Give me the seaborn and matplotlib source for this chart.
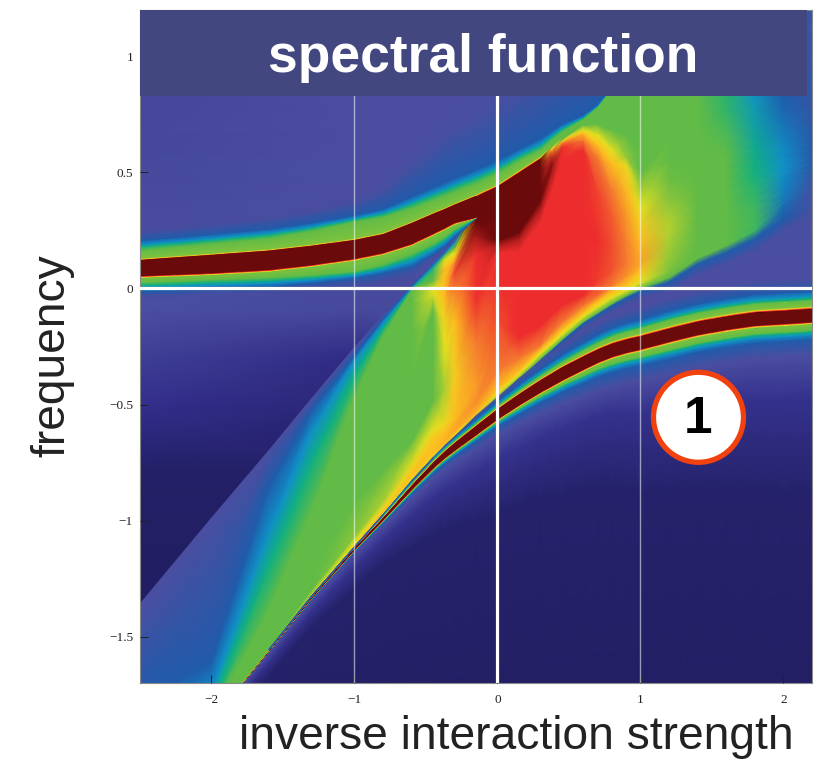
import numpy as np
import matplotlib
matplotlib.use("Agg")
import matplotlib.pyplot as plt
from matplotlib.patches import Ellipse, Rectangle
import seaborn as sns

# ---------- data ----------
inverse_strength = [-2.5, -2.0, -1.6, -1.3, -1.0, -0.8, -0.6, -0.45, -0.37, -0.3, -0.15, 0, .15, .3, .38, .45, .6, .7, .8,
                    .9, 1.0, 1.2, 1.4, 1.6, 1.8, 2.0, 2.2]
x_ticks = [-2, -1, 0, 1, 2]
y_ticks = [-1.5, -1, -0.5, 0, 0.5, 1]
title_text = "spectral function"
x_label = "inverse interaction strength"
y_label = "frequency"
badge_text = "1"

# background intensity on a coarse grid
bg_x = [-2.5, -1.0, 0.5, 2.2]
bg_freq = [-1.7, -1.2, -0.8, -0.5, -0.3, -0.1, 0.1, 0.6, 1.2]
bg_value = [[.2, .1, .1, .2], [.2, .2, .3, .4], [.3, .3, .5, .6], [1, .6, 2, 2], [1.5, .9, 2, 2],
            [2, 1.8, 2, 2], [2, 2, 2, 2], [1.8, 2, 2, 2.2], [1.7, 2, 2, 2.4]]

# lower quasi-particle branch: centre, dark half-width, halo width, soft glow width
lower_center = [-2.25, -1.86, -1.56, -1.33, -1.12, -.99, -.855, -.76, -.715, -.68, -.61, -.54, -.478, -.42, -.392, -.367,
                -.32, -.29, -.265, -.247, -.233, -.20, -.17, -.148, -.13, -.123, -.115]
lower_half = [.001, .001, .002, .003, .005, .0065, .010, .013, .015, .017, .020, .022, .024, .026, .027] + [.028] * 12
lower_halo = [.002, .002, .003, .005, .008, .012, .018, .022, .024, .026, .030, .034, .040, .045, .048, .05, .055, .057,
              .06, .061, .062, .065, .065, .065, .065, .065, .065]
lower_glow = [.03, .03, .05, .06, .08, .09, .12, .14, .15, .16, .18, .20, .21, .22, .23, .24, .25, .26, .27, .285, .30, .31,
              .32, .33, .34, .35, .35]

# upper branch: top and bottom edges of the dark band, then halo widths
upper_top = [.121, .143, .161, .182, .207, .232, .28, .32, .34, .359, .397, .44, .50, .56, .609, .652, .717, .773, .855,
             .93, 1.0]
upper_top_value = [11] * 14 + [7] + [6] * 6
top_green = [.043, .05, .055, .065, .08, .075, .065, .06, .059, .058, .055, .055, .05, .035, .03, .022, .012, .009, .006,
             .005, .004]
top_blue = [.086, .09, .095, .10, .108, .11, .115, .115, .115, .115, .115, .11, .10, .085, .07, .055, .03, .02, .015, .012,
            .01]
top_fade = [.13, .14, .15, .16, .18, .22, .30, .36, .38, .40, .42, .45, .45, .45, .45, .45, .42, .41, .40, .40, .40]
upper_bottom = [.056, .068, .082, .103, .13, .155, .194, .238, .262, .285, .307]
bottom_green = [.03, .03, .035, .045, .056, .052, .045, .045, .04, .03, .002]
bottom_blue = [.07, .07, .075, .08, .086, .09, .10, .09, .08, .06, .003]
bottom_fade = [.10, .10, .105, .115, .13, .14, .15, .115, .10, .075, .004]

# continuum below its lower edge: blue rim and soft fade offsets
rim_blue = [.006] * 17 + [.007, .008, .01, .012, .018, .024, .03, .035, .05, .06]
rim_fade = [.006] * 11 + [.012, .018, .03, .03, .03, .03, .032, .035, .037, .04, .06, .07, .08, .09, .10, .10]

# continuum: one list per column, frequency of 15 contours from its lower edge to its upper edge
cont_freq = [
    [-2.25, -2.24, -2.23, -2.22, -2.21, -2.20, -2.19, -2.18, -2.17, -2.16, -2.15, -2.104, -1.996, -1.78, -1.36],
    [-1.86, -1.858, -1.857, -1.856, -1.855, -1.854, -1.853, -1.852, -1.851, -1.85, -1.844, -1.80, -1.737, -1.607, -.99],
    [-1.56, -1.556, -1.554, -1.552, -1.54, -1.52, -1.50, -1.477, -1.456, -1.425, -1.39, -1.197, -1.045, -.851, -.70],
    [-1.33, -1.326, -1.322, -1.313, -1.296, -1.218, -1.132, -1.089, -1.045, -1.002, -.959, -.752, -.613, -.527, -.475],
    [-1.119, -1.11, -1.106, -1.093, -1.067, -.916, -.786, -.657, -.57, -.505, -.462, -.376, -.311, -.289, -.255],
    [-.975, -.968, -.96, -.946, -.916, -.786, -.613, -.441, -.311, -.246, -.203, -.173, -.147, -.13, -.117],
    [-.83, -.816, -.799, -.778, -.743, -.657, -.397, -.181, -.052, -.022, -.004, .002, .006, .011, .013],
    [-.73, -.722, -.687, -.644, -.605, -.484, -.095, -.039, -.017, .004, .035, .078, .095, .104, .112],
    [-.68, -.672, -.657, -.626, -.583, -.428, -.255, -.138, -.043, .035, .086, .121, .143, .151, .156],
    [-.64, -.628, -.615, -.592, -.557, -.354, -.138, .004, .069, .108, .13, .156, .177, .199, .207],
    [-.55, -.54, -.525, -.49, -.419, -.225, -.052, .151, .229, .285, .307, .33, .35, .37, .39],
    [-.471, -.454, -.432, -.354, -.138, .035, .151, .181, .207, .294, .38, .40, .41, .42, .44],
    [-.389, -.371, -.354, -.302, -.212, -.009, .164, .216, .242, .337, .423, .45, .47, .485, .50],
    [-.302, -.281, -.264, -.246, -.16, .078, .285, .346, .38, .445, .51, .525, .535, .55, .56],
    [-.259, -.238, -.22, -.19, -.112, .164, .423, .51, .54, .566, .587, .592, .596, .60, .609],
    [-.22, -.199, -.177, -.147, -.073, .251, .553, .609, .626, .635, .639, .64, .642, .644, .652],
    [-.143, -.121, -.104, -.073, -.03, .294, .596, .639, .67, .683, .704, .708, .71, .714, .717],
    [-.104, -.078, -.056, -.03, .035, .207, .423, .566, .618, .661, .708, .74, .75, .76, .773],
    [-.065, -.039, -.013, .013, .078, .186, .315, .423, .54, .596, .683, .74, .78, .82, .855],
    [-.03, -.009, .017, .056, .112, .207, .337, .423, .531, .566, .661, .75, .82, .88, .93],
    [0, .026, .078, .108, .143, .207, .272, .35, .423, .497, .596, .70, .80, .90, 1.0],
    [.047, .078, .143, .207, .25, .315, .38, .467, .553, .639, .72, .80, .90, 1.0, 1.15],
    [.13, .17, .22, .27, .32, .37, .42, .47, .52, .57, .62, .70, .80, .95, 1.25],
    [.186, .23, .27, .30, .34, .38, .43, .47, .52, .56, .60, .68, .77, .85, 1.25],
    [.25, .28, .32, .36, .40, .44, .48, .52, .56, .60, .64, .70, .77, .85, 1.25],
    [.35, .37, .39, .42, .45, .48, .51, .54, .57, .60, .64, .70, .77, .85, 1.25],
    [.42, .44, .46, .48, .50, .52, .54, .57, .60, .63, .66, .70, .77, .85, 1.25],
]
# colour level (0 navy ... 6 green ... 10 red, 11 dark red) of the same contours
cont_level = [
    [6, 6, 6, 6, 6, 6, 6, 6, 6, 6, 6, 5, 4, 3, 2],
    [6, 6, 6, 6, 6, 6, 6, 6, 6, 6, 6, 5, 4, 3, 2],
    [6, 6, 6, 6, 6, 6, 6, 6, 6, 6, 6, 5, 4, 3, 2],
    [6.5, 7, 7, 6.5, 6, 6, 6, 6, 6, 6, 6, 5, 4, 3, 2],
    [7, 7.4, 7.6, 7, 6.3, 6, 6, 6, 6, 6, 6, 5, 4, 3, 2],
    [6.5, 7.5, 7.9, 7.3, 6.5, 6, 6, 6, 6, 6, 6, 5, 4, 3, 2],
    [6.5, 7.5, 8, 7.5, 6.8, 6, 6, 6, 6, 6, 6, 5, 4, 3, 2],
    [6.5, 7.7, 8, 7.7, 7, 6, 6, 6.7, 7, 6.8, 6, 5.5, 4.5, 3.3, 2],
    [6.5, 8, 8.2, 8, 7.3, 6.5, 7, 7.3, 8, 8, 8, 7, 6, 4, 2.5],
    [6.5, 7.5, 8.3, 8.3, 8, 7.6, 8, 9, 9.7, 9, 8, 7, 6, 4, 2.5],
    [6.2, 8, 8.3, 8.7, 8.5, 9, 9.9, 10, 10.6, 11, 11, 11, 11, 11, 11],
    [6, 7, 8, 9, 9.6, 10, 10, 10.4, 11, 11, 11, 11, 11, 11, 11],
    [6, 7, 8, 9, 10, 10, 10, 10.5, 11, 11, 11, 11, 11, 11, 11],
    [6, 7, 8, 9, 10, 10, 10, 10.5, 11, 11, 11, 11, 11, 11, 11],
    [6, 7, 8, 9, 10, 10, 10, 10.6, 10.8, 10.3, 9.5, 9, 8.5, 8, 7],
    [6, 7, 8, 9, 10, 10, 10, 10, 9, 8, 7, 6.5, 6, 6, 6],
    [6, 7, 8, 9, 10, 10, 10, 9, 8, 7, 6, 6, 6, 6, 6],
    [6, 7, 8, 9.2, 9.8, 10, 9.7, 9, 8, 7, 6, 6, 6, 6, 6],
    [6, 7, 8, 9, 9.5, 9.6, 9.4, 9, 8, 7, 6, 6, 6, 6, 6],
    [6, 7, 8, 8.7, 9, 8.9, 8.5, 8.1, 7.2, 6.4, 6, 6, 6, 6, 6],
    [6, 7, 8, 8.4, 8.3, 8, 7.6, 7, 6.5, 6, 6, 6, 6, 6, 6],
    [6, 6.2, 6.4, 6.5, 6.6, 6.5, 6.3, 6.1, 6, 6, 6, 6, 6, 6, 6],
    [6, 6, 6, 6, 6, 6, 6, 6, 6, 6, 6, 6, 6, 6, 6],
    [6, 6, 6, 6, 6, 6, 6, 6, 6, 6, 5.9, 5.7, 5.4, 5.3, 5],
    [5.5, 5.6, 5.6, 5.5, 5.4, 5.3, 5.1, 5, 4.9, 4.8, 4.7, 4.5, 4.3, 4.0, 3.5],
    [3.3, 3.5, 3.6, 3.7, 3.8, 3.9, 4, 4, 3.9, 3.9, 3.7, 3.5, 3.2, 3, 2.8],
    [2.2, 2.3, 2.4, 2.5, 2.6, 2.7, 2.8, 2.8, 2.8, 2.8, 2.8, 2.7, 2.6, 2.5, 2.4],
]
level_colors = ["#1E1B5A", "#332F8C", "#4B4FA0", "#1F5CAB", "#1090C8", "#12B080", "#62BB46", "#E6E020", "#FDC020",
                "#F47B30", "#EE2D2D", "#6B0A0A"]

# ---------- drawing ----------
sns.set_theme(style="white")
plt.rcParams["font.family"] = ["Liberation Sans", "DejaVu Sans"]
cmap = sns.blend_palette(level_colors, n_colors=256, as_cmap=True)

fig = plt.figure(figsize=(8.16, 7.61), dpi=100)
ax = fig.add_axes([140 / 816, 78 / 761, 672 / 816, 673 / 761])


def mesh(xs, rows, levels, alphas=None):
    """Draw a curved, smoothly shaded mesh: rows and levels have shape (rows, columns)."""
    xs = np.asarray(xs, float)
    Y = np.asarray(rows, float)
    V = np.asarray(levels, float)
    X = np.tile(xs, (Y.shape[0], 1))
    rgba = cmap(V / 11.0)
    if alphas is not None:
        rgba[..., 3] = np.asarray(alphas, float)
    ax.pcolormesh(X, Y, rgba, shading="gouraud", antialiased=False, zorder=2)


X_all = np.array(inverse_strength)
full = lambda v, n: np.full(n, float(v))

# background
bX, bY = np.meshgrid(bg_x, bg_freq)
ax.pcolormesh(bX, bY, cmap(np.array(bg_value) / 11.0), shading="gouraud", antialiased=False, zorder=1)

# continuum
cf = np.array(cont_freq).T
cl = np.array(cont_level).T
n = len(X_all)
edge = cf[0]
edge_level = cl[0]
rows = np.vstack([edge - np.array(rim_fade), edge - np.array(rim_blue), cf])
levs = np.vstack([np.minimum(edge_level, 3), np.minimum(edge_level, 3), cl])
alph = np.ones_like(rows)
alph[0] = 0
mesh(X_all, rows, levs, alph)

# upper branch, above its top edge
m = len(upper_top)
T = np.array(upper_top)
tv = np.array(upper_top_value, float)
G, B, F = np.array(top_green), np.array(top_blue), np.array(top_fade)
soft = np.where(tv > 7, 1.0, 0.0)
rows = [T, T + .003, T + .006, T + .010, T + G, T + G + (B - G) * .35, T + G + (B - G) * .6, T + B, T + (B + F) / 2, T + F]
levs = [tv, 6 + 4 * soft, 6 + 1.5 * soft, 6 + .2 * soft, full(6, m), full(5, m), full(4, m), full(3, m), full(2.6, m),
        full(2, m)]
alph = np.ones((len(rows), m))
alph[-2] = .6
alph[-1] = 0
mesh(X_all[:m], rows, levs, alph)

# upper branch, dark band and lower side (up to the point where it meets the continuum)
k = len(upper_bottom)
D = np.array(upper_bottom)
G, B, F = np.array(bottom_green), np.array(bottom_blue), np.array(bottom_fade)
tiny = np.minimum(G, .01)
rows = [D - F, D - B, D - G - (B - G) * .6, D - G - (B - G) * .3, D - G, D - tiny,
        D - tiny * .6, D - tiny * .3, D, T[:k]]
levs = [full(2, k), full(3, k), full(4, k), full(5, k), full(6, k), full(6.2, k), full(7.5, k), full(10, k), full(11, k),
        full(11, k)]
alph = np.ones((len(rows), k))
alph[0] = 0
mesh(X_all[:k], rows, levs, alph)

# lower branch, opaque from the bottom of the plot up through its halo
L, W, H, Gl = map(np.array, (lower_center, lower_half, lower_halo, lower_glow))
E = .18 * H
cap = edge
top = lambda v: np.minimum(v, np.maximum(cap, L + W + .0005))
rows = [full(-2.6, n), L - 2.2 * Gl, L - Gl, L - 2.6 * H, L - 1.6 * H, L - 1.3 * H, L - 1.1 * H, L - H, L - W - E,
        L - W - .55 * E, L - W - .2 * E, L - W, L + W, top(L + W + .2 * E), top(L + W + .55 * E), top(L + W + E), top(L + H),
        top(L + 1.1 * H), top(L + 1.3 * H), top(L + 1.6 * H), top(L + 2.4 * H)]
vals = [.1, .35, 1.1, 2, 3, 4, 5, 6, 6.2, 7.5, 10, 11, 11, 10, 7.5, 6.2, 6, 5, 4, 3, 2]
levs = [full(v, n) for v in vals]
mesh(X_all, rows, levs)

# guide lines
ax.axhline(0, color="white", lw=2.3, zorder=4)
ax.axvline(0, color="white", lw=2.3, zorder=4)
for xv in (-1, 1):
    ax.axvline(xv, color="white", lw=1.0, alpha=.55, zorder=4)

# axes
ax.set_xlim(-2.5, 2.2)
ax.set_ylim(-1.7, 1.2)
ax.set_xticks(x_ticks)
ax.set_yticks(y_ticks)
ax.set_xticklabels([f"\u2212{abs(v)}" if v < 0 else f"{v}" for v in x_ticks], family="Liberation Serif", fontsize=9.5)
ax.set_yticklabels([("\u2212" if v < 0 else "") + f"{abs(v):g}" for v in y_ticks], family="Liberation Serif", fontsize=9.5)
ax.tick_params(axis="x", direction="in", length=6, width=.7, color="#222222", labelcolor="#222222", pad=8, bottom=True)
ax.tick_params(axis="y", direction="in", length=6, width=.7, color="#222222", labelcolor="#222222", pad=5, left=True)
for s in ax.spines.values():
    s.set_color("#8a8a8a")
    s.set_linewidth(.8)
ax.set_axisbelow(False)

# title band
ax.add_patch(Rectangle((-2.5, .83), 4.665, .37, facecolor="#424780", edgecolor="none", zorder=6))
ax.text(-.1, .992, title_text, color="white", fontsize=38.4, fontweight="bold", ha="center", va="center", zorder=7)

# numbered badge
ax.add_patch(Ellipse((1.406, -.555), 90 / 143, 90 / 232, facecolor="white", edgecolor="#F0410F", lw=3.8, zorder=6))
ax.text(1.406, -.565, badge_text, color="black", fontsize=37, fontweight="bold", ha="center", va="center", zorder=7)

fig.text(516 / 816, 1 - 737 / 761, x_label, fontsize=33.2, color="#222222", ha="center", va="center")
fig.text(52 / 816, 1 - 356 / 761, y_label, fontsize=33.2, color="#222222", rotation=90, ha="center", va="center")

fig.savefig("out.png", dpi=100)
